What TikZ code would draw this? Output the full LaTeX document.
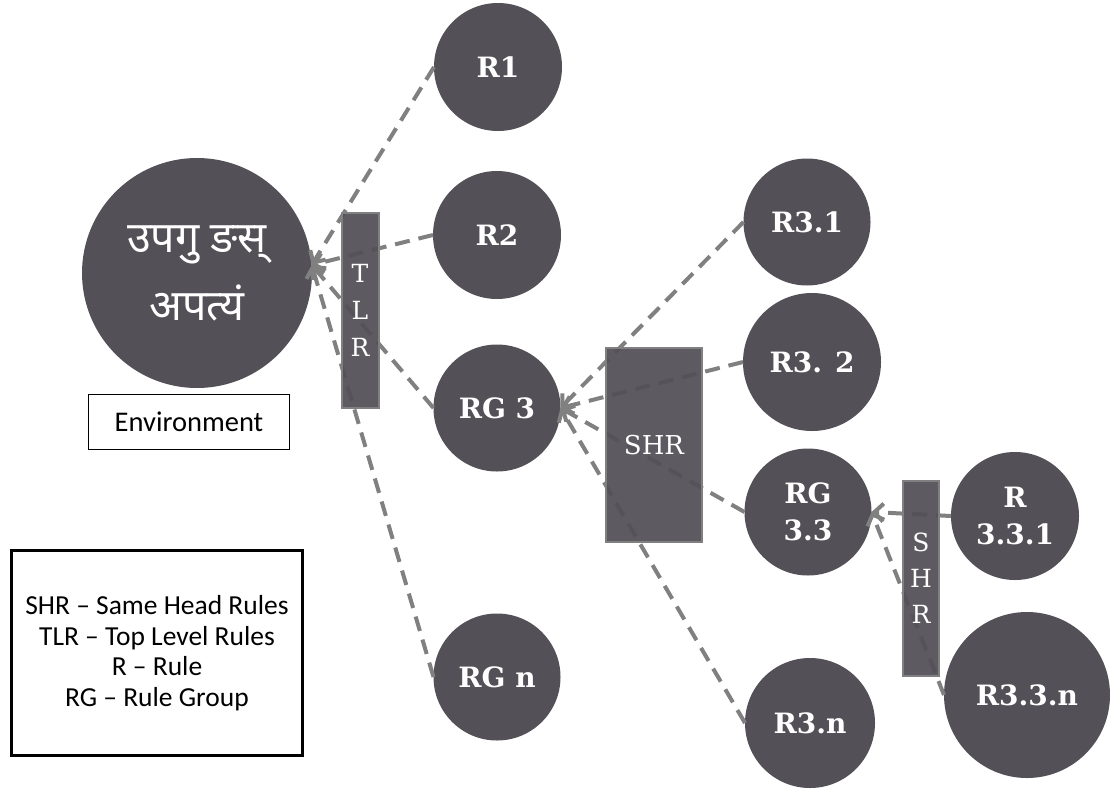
\documentclass[tikz,border=0pt]{standalone}
\usepackage{fontspec}
\setmainfont{Carlito}
\newfontfamily\devfont[Script=Devanagari]{Noto Sans}
\newfontfamily\slabfont{DejaVu Serif}
\usetikzlibrary{arrows.meta}
\definecolor{rulefill}{HTML}{545057}
\definecolor{linkgray}{HTML}{808080}

\begin{document}
\begin{tikzpicture}[x=1pt, y=-1pt, inner sep=0pt, outer sep=0pt,
    rule_circ/.style={circle, fill=rulefill, text=white, align=center,
        font=\slabfont\bfseries\fontsize{28}{37}\selectfont},
    rule_box/.style={draw=linkgray, line width=2pt, fill=rulefill,
        fill opacity=0.94, text opacity=1, text=white, align=center},
    link/.style={draw=linkgray, line width=4pt, dash pattern=on 15pt off 9pt,
        -{Straight Barb[length=9pt, width=18pt]}}]
    \useasboundingbox (0,0) rectangle (1110,798);

    % environment
    \node[circle, fill=rulefill, text=white, minimum size=230pt, align=center,
        font=\devfont\fontsize{43}{68}\selectfont] (env_circle) at (197,273)
    {उपगु ङस्\\अपत्यं};
    \node[draw, line width=1.2pt, minimum width=201pt, minimum height=55pt,
        font=\fontsize{28.5}{32}\selectfont] (env_cap) at (189,422) {Environment};

    % top level rules
    \node[rule_circ, minimum size=128pt] (r1) at (498,67) {R1};
    \node[rule_circ, minimum size=128pt] (r2) at (497,235) {R2};
    \node[rule_circ, minimum size=127pt] (rg3) at (497,408) {RG 3};
    \node[rule_circ, minimum size=127pt] (rgn) at (497,677) {RG n};

    % rules of rg 3
    \node[rule_circ, minimum size=127pt] (r3_1) at (807,222) {R3.1};
    \node[rule_circ, minimum size=138pt] (r3_2) at (812,362) {R3. 2};
    \node[rule_circ, minimum size=127pt] (rg3_3) at (808,512) {RG\\3.3};
    \node[rule_circ, minimum size=130pt] (r3_n) at (810,723) {R3.n};

    % rules of rg 3.3
    \node[rule_circ, minimum size=128pt] (r3_3_1) at (1015,516) {R\\3.3.1};
    \node[rule_circ, minimum size=166pt] (r3_3_n) at (1027,695) {R3.3.n};

    % links
    \draw[link] (r1.west) -- (env_circle.4);
    \draw[link] (r2.west) -- (env_circle.4);
    \draw[link] (rg3.west) -- (env_circle.4);
    \draw[link] (rgn.west) -- (env_circle.4);
    \draw[link] (r3_1.west) -- (rg3.east);
    \draw[link] (r3_2.west) -- (rg3.east);
    \draw[link] (rg3_3.west) -- (rg3.east);
    \draw[link] (r3_n.west) -- (rg3.east);
    \draw[link] (r3_3_1.west) -- (rg3_3.east);
    \draw[link] (r3_3_n.west) -- (rg3_3.east);

    % head boxes
    \node[rule_box, minimum width=37pt, minimum height=195pt,
        font=\slabfont\fontsize{25}{37}\selectfont] (tlr_box) at (360,310) {T\\L\\R};
    \node[rule_box, minimum width=96pt, minimum height=194pt,
        font=\slabfont\fontsize{26}{30}\selectfont] (shr_box) at (654,445) {SHR};
    \node[rule_box, minimum width=36pt, minimum height=195pt,
        font=\slabfont\fontsize{25}{36}\selectfont] (shr_box_2) at (921,578) {S\\H\\R};

    % legend
    \node[draw, line width=2.5pt, minimum width=291pt, minimum height=205pt,
        align=center, font=\fontsize{27.5}{30.5}\selectfont] (legend) at (157,653)
    {SHR -- Same Head Rules\\TLR -- Top Level Rules\\R -- Rule\\RG -- Rule Group};
\end{tikzpicture}
\end{document}
